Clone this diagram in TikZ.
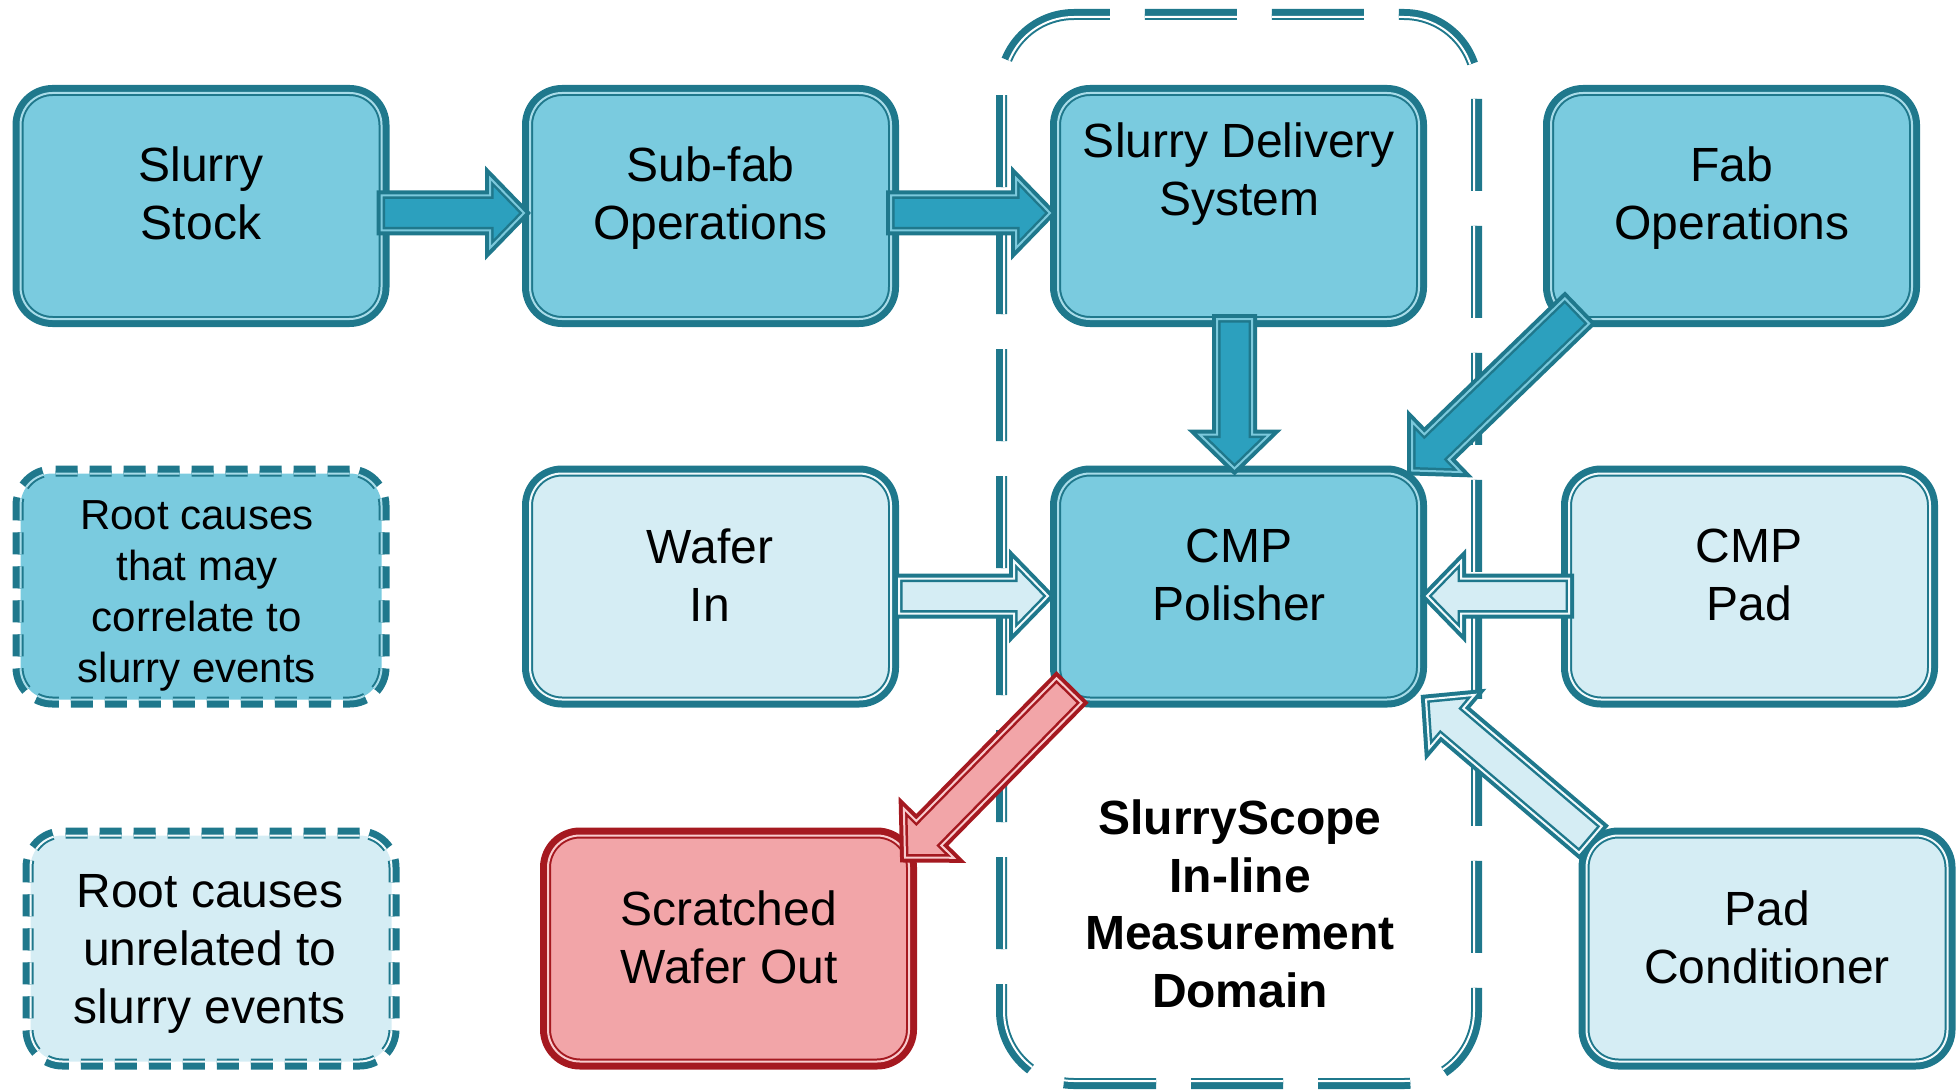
\documentclass[tikz,border=0pt]{standalone}
\usepackage{fontspec}
\setmainfont{Liberation Sans}
\usetikzlibrary{calc}

\definecolor{rimteal}{HTML}{1F788C}
\definecolor{fillblue}{HTML}{7ACBDF}
\definecolor{gapblue}{HTML}{A8DCE9}
\definecolor{fillpale}{HTML}{D5EDF4}
\definecolor{gappale}{HTML}{F2FAFC}
\definecolor{fillarrow}{HTML}{2CA0BE}
\definecolor{gaparrow}{HTML}{7CC9DC}
\definecolor{rimred}{HTML}{A51920}
\definecolor{fillred}{HTML}{F2A5A8}
\definecolor{gapred}{HTML}{F8CCCE}

\tikzset{
  % compound outline: heavy outer band, thin light gap, thin inner line
  rim/.style n args={4}{preaction={draw=#1, line width=#4}, draw=#1, double=#2, fill=#3},
  card/.style={rectangle, rounded corners=32pt, minimum width=361pt, minimum height=226pt,
    inner sep=0pt, outer sep=0pt, line width=2pt, double distance=2pt},
  bluebox/.style={card, rim={rimteal}{gapblue}{fillblue}{16pt}},
  palebox/.style={card, rim={rimteal}{gappale}{fillpale}{16pt}},
  redbox/.style={card, rim={rimred}{gapred}{fillred}{16pt}},
  dashbluebox/.style={card, dash pattern=on 22pt off 12pt,
    preaction={draw=rimteal, line width=16pt, dash pattern=on 22pt off 12pt},
    draw=rimteal, double=gapblue, fill=fillblue},
  dashpalebox/.style={card, dash pattern=on 22pt off 12pt,
    preaction={draw=rimteal, line width=16pt, dash pattern=on 22pt off 12pt},
    draw=rimteal, double=gappale, fill=fillpale},
  arrowline/.style={line width=2.5pt, double distance=2pt},
  darrow/.style={arrowline, rim={rimteal}{gaparrow}{fillarrow}{10pt}},
  parrow/.style={arrowline, rim={rimteal}{gappale}{fillpale}{10pt}},
  rarrow/.style={arrowline, rim={rimred}{gapred}{fillred}{10pt}},
  txt/.style={align=center, inner sep=0pt, font=\fontsize{48}{58}\selectfont},
  smalltxt/.style={align=center, inner sep=0pt, font=\fontsize{42}{51}\selectfont},
  boldtxt/.style={align=center, inner sep=0pt, font=\fontsize{48}{57.5}\selectfont\bfseries},
}

% block arrow from #2 (tail centre) to #3 (tip)
\newcommand\blockarrow[3]{%
  \coordinate (hb) at ($(#3)!34pt!(#2)$);
  \draw[#1] ($(#2)!17.5pt!90:(#3)$) -- ($(hb)!17.5pt!90:(#3)$) -- ($(hb)!35pt!90:(#3)$)
    -- (#3) -- ($(hb)!35pt!-90:(#3)$) -- ($(hb)!17.5pt!-90:(#3)$)
    -- ($(#2)!17.5pt!-90:(#3)$) -- cycle;}

\begin{document}
\begin{tikzpicture}[x=1pt, y=-1pt]
\useasboundingbox (0,0) rectangle (1958,1091);

% measurement domain outline
\draw[preaction={draw=rimteal, line width=16pt, dash pattern=on 92pt off 35pt},
  fill=white, draw=rimteal, double=white, line width=2pt, double distance=2pt,
  dash pattern=on 92pt off 35pt, rounded corners=70pt]
  (1153,17) -- (1004,17) -- (1004,1081) -- (1474,1081) -- (1474,17) -- cycle;

% boxes
\node[bluebox] (stock) at (201,206) {};
\node[bluebox] (subfab) at (710.5,206) {};
\node[bluebox] (sds) at (1238.5,206) {};
\node[bluebox] (fab) at (1731.5,206) {};
\node[dashbluebox] (root1) at (201,586.5) {};
\node[palebox] (wafer) at (710.5,586.5) {};
\node[bluebox] (cmp) at (1238.5,586.5) {};
\node[palebox] (pad) at (1749.5,586.5) {};
\node[dashpalebox] (root2) at (211,948.5) {};
\node[redbox] (scratched) at (728.5,948.5) {};
\node[palebox] (padcond) at (1767,948.5) {};

% labels
\node[txt] (stock-t) at (201,193) {Slurry\\Stock};
\node[txt] (subfab-t) at (710.5,198) {Sub-fab\\Operations};
\node[txt] (sds-t) at (1239,174) {Slurry Delivery\\System};
\node[txt] (fab-t) at (1732,198) {Fab\\Operations};
\node[smalltxt] (root1-t) at (197,596) {Root causes\\that may\\correlate to\\slurry events};
\node[txt] (wafer-t) at (710,575) {Wafer\\In};
\node[txt] (cmp-t) at (1239,575) {CMP\\Polisher};
\node[txt] (pad-t) at (1749,575) {CMP\\Pad};
\node[txt] (root2-t) at (210,954) {Root causes\\unrelated to\\slurry events};
\node[txt] (scratched-t) at (729,937.5) {Scratched\\Wafer Out};
\node[txt] (padcond-t) at (1767,937.5) {Pad\\Conditioner};
\node[boldtxt] (domain-t) at (1240,904) {SlurryScope\\In-line\\Measurement\\Domain};

% connector ends
\coordinate (a1s) at ([shift={(0,7)}]stock.east);
\coordinate (a1t) at ([shift={(-6,7)}]subfab.west);
\coordinate (a2s) at ([shift={(0,7)}]subfab.east);
\coordinate (a2t) at ([shift={(-8,7)}]sds.west);
\coordinate (a3s) at ([shift={(-4,0)}]sds.south);
\coordinate (a3t) at ([shift={(-4,-5)}]cmp.north);
\coordinate (a4s) at ([shift={(26,-8)}]fab.south west);
\coordinate (a4t) at ([shift={(-7,-3)}]cmp.north east);
\coordinate (a5s) at ([shift={(8,9.5)}]wafer.east);
\coordinate (a5t) at ([shift={(-10,9.5)}]cmp.west);
\coordinate (a6s) at ([shift={(0,9.5)}]pad.west);
\coordinate (a6t) at ([shift={(8,9.5)}]cmp.east);
\coordinate (a7s) at ([shift={(4,4)}]padcond.north west);
\coordinate (a7t) at ([shift={(7,0)}]cmp.south east);
\coordinate (a8s) at ([shift={(11,-9)}]cmp.south west);
\coordinate (a8t) at ([shift={(-4,22)}]scratched.north east);

% arrows
\blockarrow{darrow}{a1s}{a1t}
\blockarrow{darrow}{a2s}{a2t}
\blockarrow{darrow}{a3s}{a3t}
\blockarrow{darrow}{a4s}{a4t}
\blockarrow{parrow}{a5s}{a5t}
\blockarrow{parrow}{a6s}{a6t}
\blockarrow{parrow}{a7s}{a7t}
\blockarrow{rarrow}{a8s}{a8t}
\end{tikzpicture}
\end{document}
